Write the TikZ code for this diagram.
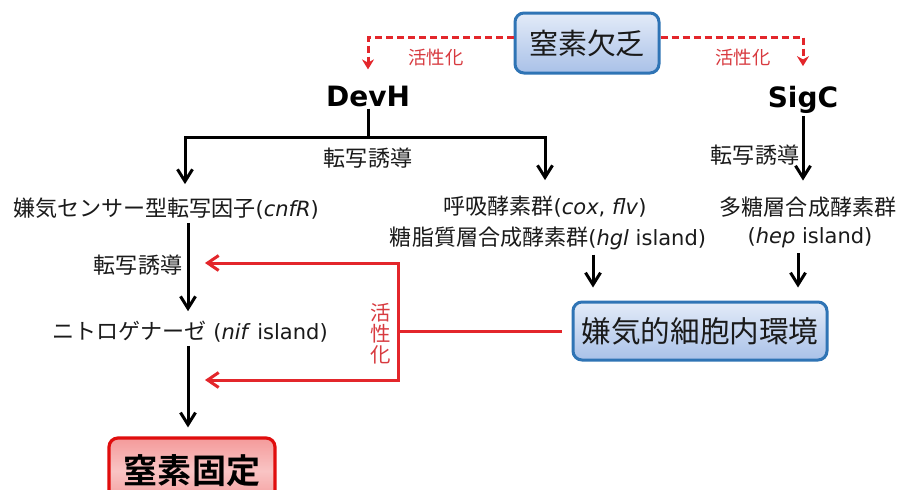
\documentclass[tikz,border=0pt]{standalone}
\usepackage{fontspec}
\setmainfont{DejaVu Sans}
\newfontfamily\jp{Noto Sans CJK JP}[Scale=1.05,BoldFont={Noto Sans CJK JP Bold}]
\usetikzlibrary{arrows.meta,shadings}
\definecolor{myred}{HTML}{E3262B}
\definecolor{labred}{HTML}{D83A3F}
\definecolor{boxblue}{HTML}{2F74B5}
\definecolor{boxred}{HTML}{E00D0D}
\definecolor{txtc}{HTML}{1A1A1A}
\definecolor{bltop}{HTML}{E3EBF8}
\definecolor{blbot}{HTML}{A9C1E8}
\definecolor{pktop}{HTML}{F49A9A}
\definecolor{pkmid}{HTML}{F9C4C4}
\tikzset{
  txt/.style={inner sep=1pt, text=txtc, font=\fontsize{21}{25}\selectfont},
  lbl/.style={inner sep=1pt, text=txtc, font=\jp\fontsize{21}{24}\selectfont},
  redlbl/.style={inner sep=1pt, text=labred, font=\jp\fontsize{17.5}{20}\selectfont},
  gene/.style={inner sep=2pt, text=black, font=\bfseries\fontsize{28}{32}\selectfont},
  blk/.style={line width=3pt, black},
  blkarr/.style={blk, -{Straight Barb[length=12pt,width=15pt]}},
  redline/.style={line width=3pt, myred},
  redarr/.style={redline, -{Straight Barb[length=11pt,width=15pt]}},
  reddash/.style={line width=3pt, myred, dash pattern=on 7pt off 4pt, -{Stealth[length=10pt,width=12pt]}},
  bluebox/.style={rounded corners=9pt, draw=boxblue, line width=3pt,
     top color=bltop, bottom color=blbot,
     inner sep=0pt, text=txtc},
  pinkbox/.style={rounded corners=9pt, draw=boxred, line width=3.2pt,
     top color=pktop, bottom color=pktop, middle color=pkmid,
     inner sep=0pt, text=black}
}
\begin{document}
\begin{tikzpicture}[x=1pt,y=-1pt]
\useasboundingbox (0,0) rectangle (900,490);
\clip (0,0) rectangle (900,490);
\fill[white] (0,0) rectangle (900,490);

% top box
\node[bluebox, minimum width=144pt, minimum height=60pt,
      font=\jp\fontsize{27.6}{32}\selectfont] (lack) at (587,43) {窒素欠乏};

\node[gene] (devh) at (368,96) {DevH};
\node[gene] (sigc) at (803,100) {SigC};

\draw[reddash] ([yshift=6pt]lack.west) -| ([yshift=14pt]devh.north);
\draw[reddash] ([yshift=6pt]lack.east) -| ([yshift=18pt]sigc.north);
\node[redlbl] (act1) at (436,58) {活性化};
\node[redlbl] (act2) at (743,58) {活性化};

% DevH branch
\coordinate (br) at (368,137);
\coordinate (bl) at (185,137);
\coordinate (bR) at (545,137);
\node[txt] (cnfr) at (166,209) {{\jp 嫌気センサー型転写因子}(\textit{cnfR})};
\node[txt] (resp1) at (545,207) {{\jp 呼吸酵素群}(\textit{cox}, \textit{flv})};
\node[txt] (resp2) at (548,238) {{\jp 糖脂質層合成酵素群}(\textit{hgl} island)};
\node[txt] (poly1) at (808,207) {\jp 多糖層合成酵素群};
\node[txt] (poly2) at (810,238) {(\textit{hep} island)};

\draw[blk] (devh.south) -- (br);
\draw[blkarr, shorten >=13pt] (br) -- (bl) -- (bl |- cnfr.north);
\draw[blkarr, shorten >=15pt] (br) -- (bR) -- (resp1.north);
\node[lbl] (ind1) at (368,158) {転写誘導};

\draw[blkarr, shorten >=15pt] (sigc.south) -- (sigc.south |- poly1.north);
\node[lbl] (ind2) at (755,155) {転写誘導};

% left column
\node[txt] (nif) at (190,332) {{\jp ニトロゲナーゼ} (\textit{nif} island)};
\coordinate (cx) at (188,0);
\draw[blkarr, shorten <=2pt, shorten >=9pt] (cnfr.south -| cx) -- (nif.north -| cx);
\node[lbl] (ind3) at (138,265) {転写誘導};

\node[pinkbox, minimum width=166pt, minimum height=66pt,
      font=\jp\bfseries\fontsize{32.4}{36}\selectfont] (fix) at (192,471) {窒素固定};
\draw[blkarr, shorten <=2pt, shorten >=9pt] (nif.south -| cx) -- (fix.north -| cx);

% right-bottom
\node[bluebox, minimum width=254pt, minimum height=58pt,
      font=\jp\fontsize{28.2}{32}\selectfont] (anaer) at (700,331) {嫌気的細胞内環境};
\coordinate (ax1) at (593,0);
\coordinate (ax2) at (798,0);
\draw[blkarr, shorten <=4pt, shorten >=13pt] (resp2.south -| ax1) -- (anaer.north -| ax1);
\draw[blkarr, shorten <=4pt, shorten >=13pt] (poly2.south -| ax2) -- (anaer.north -| ax2);

% red activation
\coordinate (vm) at (398,331);
\coordinate (at1) at (205,263);
\coordinate (at2) at (205,380);
\draw[redline] ([xshift=-10pt]anaer.west) -- (vm);
\draw[redarr] (vm) |- (at1);
\draw[redarr] (vm) |- (at2);
\node[redlbl, align=center, font=\jp\fontsize{19.5}{21}\selectfont] (act3) at (381,334) {活\\性\\化};
\end{tikzpicture}
\end{document}
